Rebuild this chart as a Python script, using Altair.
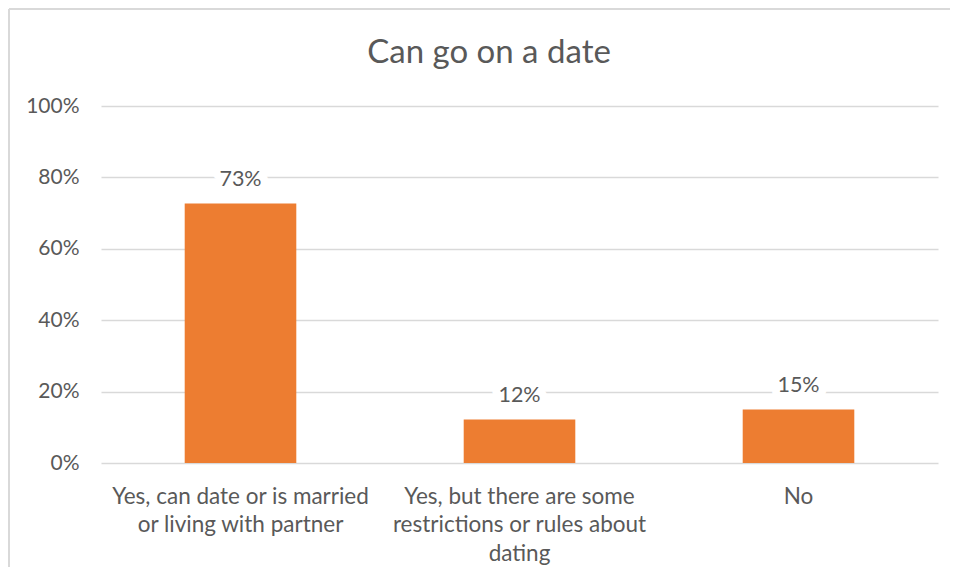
import altair as alt
import pandas as pd

# Data
chart_title = "Can go on a date"
categories = [
    "Yes, can date or is married or living with partner",
    "Yes, but there are some restrictions or rules about dating",
    "No",
]
label_lines = [
    ["Yes, can date or is married", "or living with partner"],
    ["Yes, but there are some", "restrictions or rules about", "dating"],
    ["No"],
]
values = [0.727, 0.122, 0.15]
value_labels = ["73%", "12%", "15%"]
y_ticks = [0, 0.2, 0.4, 0.6, 0.8, 1.0]

df = pd.DataFrame({"cat": categories, "val": values, "lab": value_labels})

FONT = "Lato"
GREY = "#595959"
GRID = "#d9d9d9"
BAR = "#ED7D31"

# build a label expression that wraps each category on several lines
expr_parts = []
for c, lines in zip(categories, label_lines):
    arr = "[" + ",".join("'" + l + "'" for l in lines) + "]"
    expr_parts.append(f"datum.value == '{c}' ? {arr}")
label_expr = " : ".join(expr_parts) + " : datum.label"

x_enc = alt.X(
    "cat:N",
    sort=categories,
    title=None,
    scale=alt.Scale(paddingInner=0.6, paddingOuter=0.3),
    axis=alt.Axis(
        labelExpr=label_expr,
        labelAngle=0,
        labelFont=FONT,
        labelFontSize=22.5,
        labelColor=GREY,
        labelLineHeight=28.5,
        labelPadding=22,
        labelBaseline="top",
        labelLimit=400,
        domain=False,
        ticks=False,
        grid=False,
    ),
)
y_enc = alt.Y(
    "val:Q",
    title=None,
    scale=alt.Scale(domain=[0, 1], nice=False),
    axis=alt.Axis(
        values=y_ticks,
        format=".0%",
        labelFont=FONT,
        labelFontSize=21,
        labelColor=GREY,
        labelPadding=22,
        domain=False,
        ticks=False,
        grid=True,
        gridColor=GRID,
        gridWidth=1.5,
    ),
)

base = alt.Chart(df)

bars = base.mark_bar(color=BAR).encode(x=x_enc, y=y_enc)

halo = base.mark_text(
    font=FONT, fontSize=21.5, dy=-17, baseline="alphabetic",
    color="white", stroke="white", strokeWidth=16, strokeJoin="round",
).encode(x=alt.X("cat:N", sort=categories), y="val:Q", text="lab:N")

labels = base.mark_text(
    font=FONT, fontSize=21.5, dy=-17, baseline="alphabetic", color=GREY,
).encode(x=alt.X("cat:N", sort=categories), y="val:Q", text="lab:N")

# chart title drawn as a text mark above the plot area
title_mark = alt.Chart(pd.DataFrame({"t": [chart_title]})).mark_text(
    font=FONT, fontSize=33, color=GREY, align="center", baseline="alphabetic",
).encode(x=alt.value(388), y=alt.value(-43), text="t:N")

# light frame around the chart (top and left edges visible in the reference)
frame_top = alt.Chart(df).mark_rule(color=GRID, strokeWidth=2).encode(
    x=alt.value(-92), x2=alt.value(870), y=alt.value(-97)
)
frame_left = alt.Chart(df).mark_rule(color=GRID, strokeWidth=2).encode(
    x=alt.value(-92), y=alt.value(-97), y2=alt.value(480)
)

chart = (
    alt.layer(frame_top, frame_left, bars, halo, labels, title_mark)
    .properties(
        width=837,
        height=357,
        background="white",
        autosize=alt.AutoSizeParams(type="none"),
        padding={"left": 93, "top": 98, "right": 12, "bottom": 104},
    )
    .configure_view(strokeWidth=0, stroke="transparent")
)

chart.save("out.html", embed_options={"renderer": "svg", "actions": False})
